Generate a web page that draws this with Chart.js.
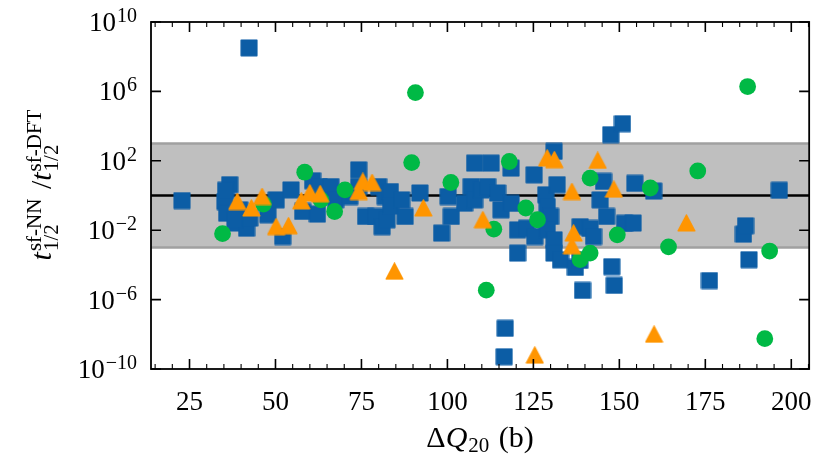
<!DOCTYPE html>
<html>
<head>
<meta charset="utf-8">
<script src="https://cdn.jsdelivr.net/npm/chart.js@4.4.1/dist/chart.umd.min.js"></script>
<style>
  html, body { margin: 0; padding: 0; background: #fff; }
  #wrap { width: 830px; height: 460px; }
</style>
</head>
<body>
<div id="wrap"><canvas id="chart" width="830" height="460"></canvas></div>
<script>
// ---- data: ΔQ20 (b) and half-life ratio t(NN)/t(DFT) ----
const squareDQ = [22.8, 36.7, 35.3, 35.8, 39.6, 38.7, 41.6, 42.5, 42.3, 47.8,
  50.2, 52.1, 54.5, 57.9, 60.8, 62.7, 62.2, 66.1, 67.5, 71.6,
  74.2, 74.2, 76.2, 79.1, 80.0, 81.0, 81.9, 82.4, 83.4, 83.5,
  86.7, 87.7, 92.0, 98.3, 100.2, 101.1, 105.0, 106.9, 107.9, 107.9,
  109.8, 111.7, 112.7, 114.6, 115.6, 116.8, 116.5, 118.5, 118.5, 120.4,
  120.4, 123.0, 125.2, 125.4, 128.6, 129.0, 130.0, 129.0, 131.0, 131.0,
  132.9, 131.9, 131.0, 137.2, 138.5, 138.6, 141.5, 142.5, 139.3, 144.4,
  145.4, 146.3, 147.5, 150.9, 147.8, 148.5, 151.5, 154.0, 154.5, 160.0,
  176.2, 186.1, 186.7, 187.7, 196.5, 35.5, 38.2];
const squareRatio = [0.51, 4.2, 0.45, 0.095, 0.15, 0.026, 0.013, 0.05, 3.2e8, 0.078,
  0.56, 0.0043, 2.1, 0.12, 7.1, 3.3, 0.085, 3.3, 0.56, 0.87,
  30, 3.3, 0.062, 0.062, 3.3, 0.016, 0.87, 0.04, 1.7, 0.25,
  0.56, 0.062, 1.4, 0.0068, 0.87, 0.062, 0.36, 3.3, 74, 0.56,
  2.1, 3.3, 74, 1.4, 0.15, 2.2e-8, 5.1e-10, 38, 0.35, 0.0105,
  4.8e-4, 0.013, 15.5, 0.0043, 1.1, 0.23, 0.062, 0.0105, 0.0028, 4.8e-4,
  1.95e-4, 4.2, 350, 7.1e-5, 1.8e-4, 0.016, 0.0126, 0.0043, 3.4e-6, 0.56,
  6.5, 0.062, 3200, 13800, 7.9e-5, 6.6e-6, 0.025, 0.026, 5.0, 1.8,
  1.26e-5, 0.0059, 0.018, 2.0e-4, 2.0, 2.0, 0.04];

const circleDQ = [34.6, 46.5, 58.5, 63.2, 67.2, 70.2, 89.6, 90.7, 101.0, 111.3,
  113.5, 118.0, 122.8, 126.2, 138.6, 141.5, 141.5, 149.4, 159.0, 164.3,
  172.8, 187.3, 192.3, 193.7];
const circleRatio = [0.0063, 0.32, 22, 0.56, 0.12, 2.1, 79, 8.5e5, 5.6, 3.5e-6,
  0.0115, 91, 0.19, 0.04, 2.0e-4, 4.8e-4, 10, 0.0054, 2.7, 0.0011,
  26, 1.9e6, 5.6e-9, 6.3e-4];

const triangleDQ = [38.9, 43.0, 46.1, 50.2, 53.8, 57.5, 60.0, 63.0, 74.2, 75.4,
  78.1, 84.6, 93.0, 110.3, 125.4, 129.0, 131.1, 136.2, 136.7, 136.2,
  143.7, 148.4, 160.1, 169.5];
const triangleRatio = [0.45, 0.19, 0.87, 0.016, 0.018, 0.49, 1.4, 1.26, 1.7, 6.5,
  5.6, 4.3e-5, 0.19, 0.04, 6.3e-10, 145, 115, 1.7, 0.0068, 0.00126,
  105, 2.3, 1.0e-8, 0.026];

// axis limits, ticks, band
const xMin = 13.8, xMax = 205.2;
const xMajor = [25, 50, 75, 100, 125, 150, 175, 200];
const xMinorStep = 5;
const yMin = 1e-10, yMax = 1e10;
const yMajor = [1e-10, 1e-6, 1e-2, 1e2, 1e6, 1e10];
const bandLow = 1e-3, bandHigh = 1e3;
const refLine = 1;

const BLUE = '#0C5DA5', GREEN = '#00B945', ORANGE = '#FF9500';
const SERIF = "'Liberation Serif', 'DejaVu Serif', serif";

function toPoints(xs, ys) {
  return xs.map((x, i) => ({ x: x, y: ys[i] }));
}

function fontStr(size, italic) {
  return (italic ? 'italic ' : '') + size + 'px ' + SERIF;
}

// marker images (matplotlib-like square and triangle)
function markerCanvas(w, h, draw) {
  const c = document.createElement('canvas');
  c.width = w;
  c.height = h;
  draw(c.getContext('2d'));
  return c;
}

const squareImg = markerCanvas(18, 18, g => {
  g.fillStyle = BLUE;
  g.strokeStyle = BLUE;
  g.lineJoin = 'round';
  g.lineWidth = 1.5;
  g.beginPath();
  g.rect(1.2, 1.2, 15.6, 15.6);
  g.fill();
  g.stroke();
});

const triangleImg = markerCanvas(19, 18, g => {
  g.fillStyle = ORANGE;
  g.strokeStyle = ORANGE;
  g.lineJoin = 'round';
  g.lineWidth = 1.5;
  g.beginPath();
  g.moveTo(9.5, 1);
  g.lineTo(17.8, 16.8);
  g.lineTo(1.2, 16.8);
  g.closePath();
  g.fill();
  g.stroke();
});

// rich text helpers for sub/superscripts
function measurePieces(ctx, pieces) {
  let w = 0;
  pieces.forEach(p => {
    if (p.sup !== undefined) {
      ctx.font = fontStr(p.size, false);
      p.w = Math.max(ctx.measureText(p.sup).width, ctx.measureText(p.sub).width);
    } else {
      ctx.font = fontStr(p.size, p.it);
      p.w = ctx.measureText(p.t).width;
    }
    w += p.w + (p.gap || 0);
  });
  return w;
}

function drawPieces(ctx, pieces, x, y) {
  pieces.forEach(p => {
    if (p.sup !== undefined) {
      ctx.font = fontStr(p.size, false);
      ctx.fillText(p.sup, x, y - p.up);
      ctx.fillText(p.sub, x, y + p.down);
    } else {
      ctx.font = fontStr(p.size, p.it);
      ctx.fillText(p.t, x, y + (p.dy || 0));
    }
    x += p.w + (p.gap || 0);
  });
}

const xTitle = [
  { t: '\u0394', size: 30 },
  { t: 'Q', size: 30, it: true, gap: 1 },
  { t: '20', size: 21, dy: 5, gap: 2 },
  { t: ' (b)', size: 30 }
];

const yTitle = [
  { t: 't', size: 30, it: true, gap: 1 },
  { sup: 'sf-NN', sub: '1/2', size: 21, up: 10, down: 7, gap: 2 },
  { t: ' /', size: 30 },
  { t: 't', size: 30, it: true, gap: 1 },
  { sup: 'sf-DFT', sub: '1/2', size: 21, up: 10, down: 7 }
];

const decorPlugin = {
  id: 'decor',
  beforeDatasetsDraw(chart) {
    const { ctx, chartArea: a } = chart;
    const y = chart.scales.y;
    const yHi = y.getPixelForValue(bandHigh);
    const yLo = y.getPixelForValue(bandLow);
    const y1 = y.getPixelForValue(refLine);
    ctx.save();
    ctx.fillStyle = '#bfbfbf';
    ctx.fillRect(a.left, yHi, a.right - a.left, yLo - yHi);
    ctx.strokeStyle = '#a0a0a0';
    ctx.lineWidth = 2.5;
    [yHi, yLo].forEach(p => {
      ctx.beginPath();
      ctx.moveTo(a.left, p);
      ctx.lineTo(a.right, p);
      ctx.stroke();
    });
    ctx.strokeStyle = '#000';
    ctx.lineWidth = 2.6;
    ctx.beginPath();
    ctx.moveTo(a.left, y1);
    ctx.lineTo(a.right, y1);
    ctx.stroke();
    ctx.restore();
  },
  afterDatasetsDraw(chart) {
    const { ctx, chartArea: a } = chart;
    const x = chart.scales.x, y = chart.scales.y;
    ctx.save();
    ctx.strokeStyle = '#000';

    // minor x ticks
    ctx.lineWidth = 1.1;
    for (let v = Math.ceil(xMin / xMinorStep) * xMinorStep; v <= xMax; v += xMinorStep) {
      if (xMajor.includes(v)) continue;
      const px = x.getPixelForValue(v);
      ctx.beginPath();
      ctx.moveTo(px, a.bottom); ctx.lineTo(px, a.bottom - 5);
      ctx.moveTo(px, a.top); ctx.lineTo(px, a.top + 5);
      ctx.stroke();
    }
    // major ticks
    ctx.lineWidth = 1.6;
    xMajor.forEach(v => {
      const px = x.getPixelForValue(v);
      ctx.beginPath();
      ctx.moveTo(px, a.bottom); ctx.lineTo(px, a.bottom - 10);
      ctx.moveTo(px, a.top); ctx.lineTo(px, a.top + 10);
      ctx.stroke();
    });
    yMajor.forEach(v => {
      const py = y.getPixelForValue(v);
      ctx.beginPath();
      ctx.moveTo(a.left, py); ctx.lineTo(a.left + 10, py);
      ctx.moveTo(a.right, py); ctx.lineTo(a.right - 10, py);
      ctx.stroke();
    });
    // frame
    ctx.lineWidth = 1.8;
    ctx.strokeRect(a.left, a.top, a.right - a.left, a.bottom - a.top);
    ctx.restore();
  },
  afterDraw(chart) {
    const { ctx, chartArea: a } = chart;
    const y = chart.scales.y;
    ctx.save();
    ctx.fillStyle = '#000';
    ctx.textBaseline = 'alphabetic';
    ctx.textAlign = 'left';

    // y tick labels 10^n
    yMajor.forEach(v => {
      const e = Math.round(Math.log10(v));
      const exp = (e < 0 ? '\u2212' : '') + Math.abs(e);
      const py = y.getPixelForValue(v);
      ctx.font = fontStr(20, false);
      const we = ctx.measureText(exp).width;
      ctx.font = fontStr(27, false);
      const wb = ctx.measureText('10').width;
      const right = a.left - 14;
      ctx.fillText('10', right - we - wb - 1, py + 9);
      ctx.font = fontStr(20, false);
      ctx.fillText(exp, right - we, py);
    });

    // x title
    const wx = measurePieces(ctx, xTitle);
    drawPieces(ctx, xTitle, (a.left + a.right) / 2 - wx / 2, 447);

    // y title (rotated)
    const wy = measurePieces(ctx, yTitle);
    ctx.translate(51, 185);
    ctx.rotate(-Math.PI / 2);
    drawPieces(ctx, yTitle, -wy / 2, 0);
    ctx.restore();
  }
};

Chart.defaults.font.family = SERIF;
Chart.defaults.color = '#000';

new Chart(document.getElementById('chart'), {
  type: 'scatter',
  data: {
    datasets: [
      {
        label: 'squares',
        data: toPoints(squareDQ, squareRatio),
        pointStyle: squareImg,
        pointRadius: 8,
        backgroundColor: BLUE,
        order: 3
      },
      {
        label: 'circles',
        data: toPoints(circleDQ, circleRatio),
        pointStyle: 'circle',
        pointRadius: 8.4,
        borderWidth: 0,
        backgroundColor: GREEN,
        order: 2
      },
      {
        label: 'triangles',
        data: toPoints(triangleDQ, triangleRatio),
        pointStyle: triangleImg,
        pointRadius: 8,
        backgroundColor: ORANGE,
        order: 1
      }
    ]
  },
  options: {
    responsive: false,
    animation: false,
    events: [],
    layout: { padding: { left: 0, right: 17, top: 22, bottom: 0 } },
    plugins: {
      legend: { display: false },
      tooltip: { enabled: false }
    },
    scales: {
      x: {
        type: 'linear',
        min: xMin,
        max: xMax,
        grid: { display: false, drawTicks: false },
        border: { display: false },
        ticks: {
          font: { size: 27 },
          color: '#000',
          padding: 18,
          maxRotation: 0
        },
        afterBuildTicks: s => { s.ticks = xMajor.map(v => ({ value: v })); },
        afterFit: s => { s.height = 91; }
      },
      y: {
        type: 'logarithmic',
        min: yMin,
        max: yMax,
        grid: { display: false, drawTicks: false },
        border: { display: false },
        ticks: { display: false },
        afterBuildTicks: s => { s.ticks = yMajor.map(v => ({ value: v })); },
        afterFit: s => { s.width = 151; }
      }
    }
  },
  plugins: [decorPlugin]
});
</script>
</body>
</html>
